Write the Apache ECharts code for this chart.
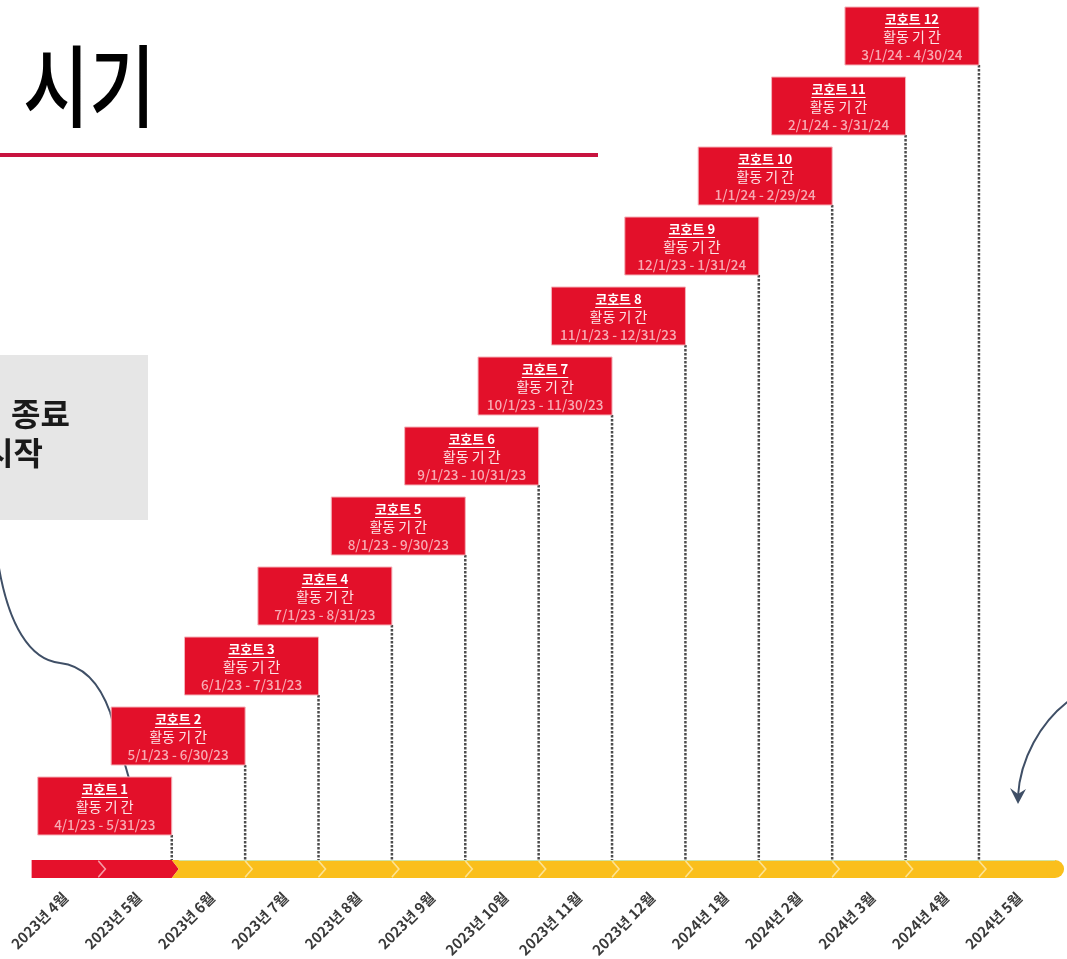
<!DOCTYPE html>
<html><head><meta charset="utf-8">
<script src="https://cdn.jsdelivr.net/npm/echarts@6/dist/echarts.min.js"></script>
<style>html,body{margin:0;padding:0;background:#fff;overflow:hidden}#c{width:1067px;height:959px}</style>
</head><body><div id="c"></div>
<script>
// ---- data ----
const monthLabels = ['2023년 4월','2023년 5월','2023년 6월','2023년 7월','2023년 8월','2023년 9월','2023년 10월','2023년 11월','2023년 12월','2024년 1월','2024년 2월','2024년 3월','2024년 4월','2024년 5월'];
const monthStatus = ['done','done','todo','todo','todo','todo','todo','todo','todo','todo','todo','todo','todo','todo'];
const timelineStart = 0.09;
const timelineEnd = 14.16;
const cohortNames = ['코호트 1','코호트 2','코호트 3','코호트 4','코호트 5','코호트 6','코호트 7','코호트 8','코호트 9','코호트 10','코호트 11','코호트 12'];
const periodLabel = '활동 기 간';
const cohortDates = ['4/1/23 - 5/31/23','5/1/23 - 6/30/23','6/1/23 - 7/31/23','7/1/23 - 8/31/23','8/1/23 - 9/30/23','9/1/23 - 10/31/23','10/1/23 - 11/30/23','11/1/23 - 12/31/23','12/1/23 - 1/31/24','1/1/24 - 2/29/24','2/1/24 - 3/31/24','3/1/24 - 4/30/24'];
const cohortStartMonth = [0,1,2,3,4,5,6,7,8,9,10,11];
const cohortEndMonth = [2,3,4,5,6,7,8,9,10,11,12,13];
const cohortLevel = [1,2,3,4,5,6,7,8,9,10,11,12];
const timelineLevel = 0.1;
const titleText = '시기';
const noteLines = ['종료','시작'];

// ---- helpers ----
const FONT = '"Noto Sans CJK KR","Noto Sans",sans-serif';
const mctx = document.createElement('canvas').getContext('2d');
function textW(t, f){ mctx.font = f; return mctx.measureText(t).width; }

const segData = monthLabels.map((m,i)=>[i===0 ? timelineStart : i, i===monthLabels.length-1 ? timelineEnd : i+1, monthStatus[i]==='done'?1:0, i]);
const boxData = cohortNames.map((n,i)=>[cohortEndMonth[i], cohortLevel[i], cohortStartMonth[i], i]);

const BAR_H = 18, PT = 7;
function renderSeg(params, api){
  const x0 = api.coord([api.value(0), timelineLevel])[0];
  const p1 = api.coord([api.value(1), timelineLevel]);
  const x1 = p1[0], mid = p1[1], top = mid-BAR_H/2, bot = mid+BAR_H/2;
  const done = api.value(2)===1, i = api.value(3);
  const last = i===monthLabels.length-1;
  const fill = done ? '#e5112b' : '#fabf1c';
  const light = done ? '#f59aa4' : '#fde291';
  let pts;
  const leftPts = i===0 ? [[x0,bot]] : [[x0,bot],[x0+PT,mid]];
  const children = [];
  if(last){
    pts = [[x0,top],[x1-9,top],[x1-9,bot]].concat(leftPts);
    children.push({type:'polygon', shape:{points:pts}, style:{fill:fill}});
    children.push({type:'circle', shape:{cx:x1-9, cy:mid, r:9}, style:{fill:fill}});
  } else {
    pts = [[x0,top],[x1,top],[x1+PT,mid],[x1,bot]].concat(leftPts);
    children.push({type:'polygon', shape:{points:pts}, style:{fill:fill}});
  }
  const prevDone = i>0 && monthStatus[i-1]==='done';
  if(i>0 && prevDone===done){
    children.push({type:'polyline', shape:{points:[[x0,top+1],[x0+PT,mid],[x0,bot-1]]}, style:{stroke:light, lineWidth:1.6, fill:null}});
  }
  if(!done){
    children.push({type:'line', shape:{x1:x0+(prevDone?PT:0), y1:top+0.5, x2:last?x1-9:x1, y2:top+0.5}, style:{stroke:'#cfe3a6', lineWidth:1}});
  }
  return {type:'group', children};
}

const BOX_W = 134, BOX_H = 58;
function renderBox(params, api){
  const p = api.coord([api.value(0), api.value(1)]);
  const i = api.value(3);
  const x = p[0]-BOX_W, y = p[1]-BOX_H/2, cx = x+BOX_W/2;
  const tf = `bold 13px ${FONT}`;
  const tw = textW(cohortNames[i], tf);
  return {type:'group', children:[
    {type:'rect', shape:{x:x, y:y, width:BOX_W, height:BOX_H}, style:{fill:'#e3102a', stroke:'#f4b3ba', lineWidth:1}},
    {type:'text', style:{text:cohortNames[i], x:cx, y:y+12, fill:'#ffffff', font:tf, align:'center', verticalAlign:'middle'}},
    {type:'line', shape:{x1:cx-tw/2, y1:y+20.5, x2:cx+tw/2, y2:y+20.5}, style:{stroke:'#ffffff', lineWidth:1}},
    {type:'text', style:{text:periodLabel, x:cx, y:y+30, fill:'#fde3e6', font:`14px ${FONT}`, align:'center', verticalAlign:'middle'}},
    {type:'text', style:{text:cohortDates[i], x:cx, y:y+48, fill:'#f7aab3', font:`500 13.5px ${FONT}`, align:'center', verticalAlign:'middle'}}
  ]};
}
function renderDash(params, api){
  const p = api.coord([api.value(0), api.value(1)]);
  const b = api.coord([api.value(0), timelineLevel]);
  return {type:'line', shape:{x1:p[0], y1:p[1]+BOX_H/2, x2:p[0], y2:b[1]-BAR_H/2}, style:{stroke:'#4d4d4d', lineWidth:2.5, lineDash:[2.5,1.5]}};
}

const chart = echarts.init(document.getElementById('c'), null, {renderer:'canvas'});
const ARROW = '#3f4f66';
chart.setOption({
  animation:false,
  backgroundColor:'#ffffff',
  grid:{left:25, right:0, top:1, bottom:83, containLabel:false, outerBoundsMode:'none'},
  xAxis:{type:'value', min:0, max:14.2, splitLine:{show:false}, axisLine:{show:false}, axisTick:{show:false},
    axisLabel:{show:true, customValues:monthLabels.map((m,i)=>i+0.55), formatter:(v)=>monthLabels[Math.floor(v)],
      rotate:45, margin:19, fontSize:14.5, fontWeight:'bold', color:'#3a3a3a', fontFamily:FONT}},
  yAxis:{type:'value', min:0, max:12.5, show:false},
  graphic:[
    {type:'text', x:23, y:86, scaleX:0.8, z:1, style:{text:titleText, fontSize:90, fontWeight:500, fontFamily:FONT, fill:'#000', verticalAlign:'middle'}},
    {type:'rect', shape:{x:0, y:153, width:598, height:4}, z:1, style:{fill:'#c8133f'}},
    {type:'rect', shape:{x:0, y:355, width:148, height:165}, z:1, style:{fill:'#e6e6e6'}},
    {type:'text', x:11, y:414, z:1, style:{text:noteLines[0], fontSize:32, fontWeight:'bold', fontFamily:FONT, fill:'#1a1a1a', verticalAlign:'middle'}},
    {type:'text', x:-16, y:453, z:1, style:{text:noteLines[1], fontSize:32, fontWeight:'bold', fontFamily:FONT, fill:'#1a1a1a', verticalAlign:'middle'}},
    {type:'bezierCurve', z:1, shape:{x1:-2, y1:562, cpx1:8, cpy1:625, cpx2:30, cpy2:660, x2:60, y2:663}, style:{stroke:ARROW, lineWidth:2, fill:null}},
    {type:'bezierCurve', z:1, shape:{x1:60, y1:663, cpx1:88, cpy1:666, cpx2:102, cpy2:690, x2:110, y2:712}, style:{stroke:ARROW, lineWidth:2, fill:null}},
    {type:'line', z:1, shape:{x1:110, y1:712, x2:130, y2:782}, style:{stroke:ARROW, lineWidth:2}},
    {type:'bezierCurve', z:1, shape:{x1:1070, y1:700, cpx1:1040, cpy1:722, cpx2:1020, cpy2:760, x2:1018, y2:796}, style:{stroke:ARROW, lineWidth:2, fill:null}},
    {type:'polygon', z:1, shape:{points:[[1010,788],[1018,804],[1026,789],[1018,794]]}, style:{fill:ARROW}}
  ],
  series:[
    {type:'custom', name:'timeline', renderItem:renderSeg, data:segData, z:3, clip:false, silent:true},
    {type:'custom', name:'guides', renderItem:renderDash, data:boxData, z:4, silent:true},
    {type:'custom', name:'cohorts', renderItem:renderBox, data:boxData, z:5, silent:true}
  ]
});
</script></body></html>
